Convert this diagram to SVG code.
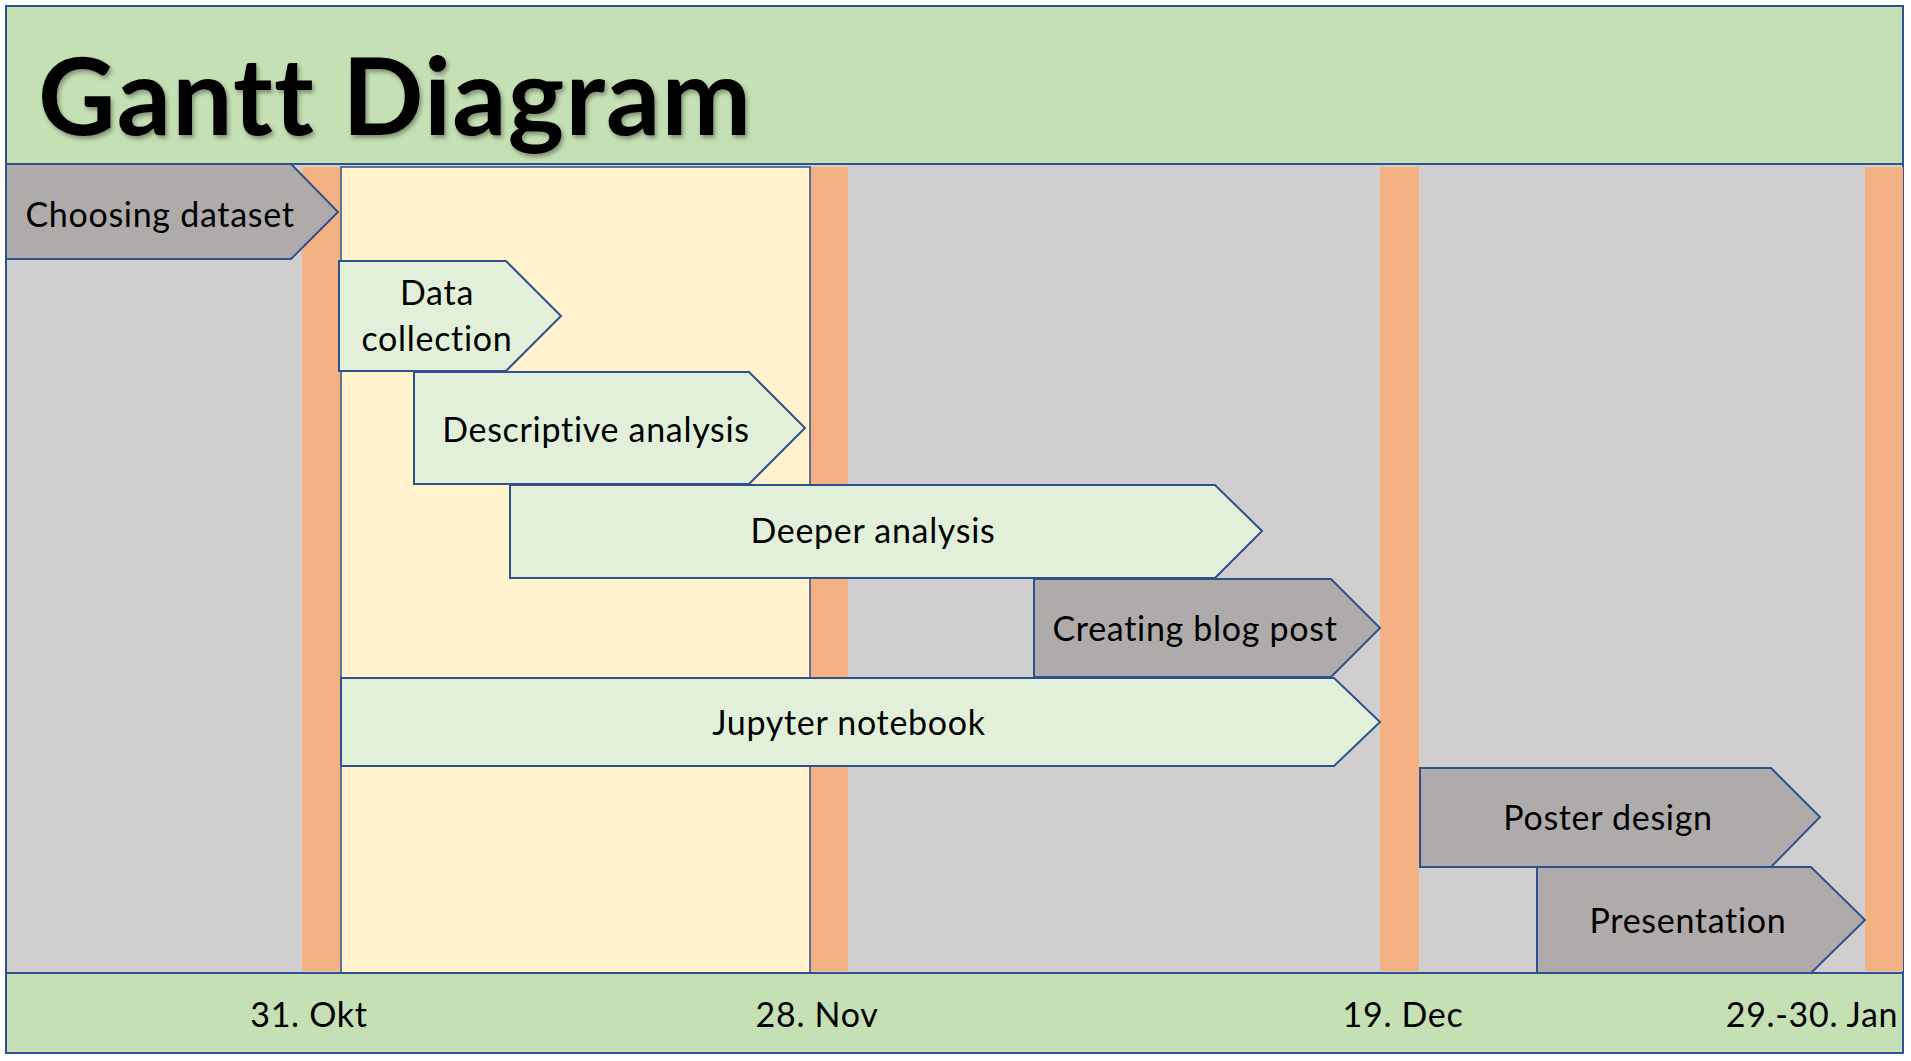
<svg xmlns="http://www.w3.org/2000/svg" width="1911" height="1061" viewBox="0 0 1911 1061">
<style>
.band{fill:#C5E0B4;stroke:#2F528F;stroke-width:2}
.area{fill:#D0CECE;stroke:#2F528F;stroke-width:2}
.bar{fill:#F4B183}
.yel{fill:#FFF2CC;stroke:#2F528F;stroke-width:1.5}
.lg{fill:#E2F0D9;stroke:#2F528F;stroke-width:2}
.dg{fill:#AFABAB;stroke:#2F528F;stroke-width:2}
.lbl{font-family:Lato,"Open Sans",sans-serif;font-size:34px;letter-spacing:0.7px;fill:#000;text-anchor:middle;font-variant-ligatures:none}
.title{font-family:Lato,"Open Sans",sans-serif;font-weight:bold;font-size:107px;letter-spacing:1.2px;fill:#000;font-variant-ligatures:none}
</style>
<defs>
<filter id="sh" x="-5%" y="-20%" width="110%" height="140%">
<feDropShadow dx="2" dy="3" stdDeviation="2" flood-color="#000" flood-opacity="0.35"/>
</filter>
</defs>
<rect width="1911" height="1061" fill="#FFFFFF"/>
<g id="header">
<rect class="band" x="6" y="6" width="1897" height="158"/>
<text class="title" x="38" y="135" filter="url(#sh)">Gantt Diagram</text>
</g>
<g id="timeline-area">
<rect class="area" x="6" y="164" width="1897" height="809"/>
<rect class="bar" x="302" y="167" width="38" height="804"/>
<rect class="bar" x="810" y="167" width="38" height="804"/>
<rect class="bar" x="1380" y="167" width="39" height="804"/>
<rect class="bar" x="1865" y="167" width="38" height="804"/>
<rect class="yel" x="341" y="167" width="469" height="806"/>
</g>
<g id="choosing-dataset">
<polygon class="dg" points="6,164 291,164 338,212 291,259 6,259"/>
<text class="lbl" x="160" y="227">Choosing dataset</text>
</g>
<g id="data-collection">
<polygon class="lg" points="339,261 506,261 561,316 506,371 339,371"/>
<text class="lbl" x="437" y="305">Data</text>
<text class="lbl" x="437" y="351">collection</text>
</g>
<g id="descriptive-analysis">
<polygon class="lg" points="414,372 749,372 805,428 749,484 414,484"/>
<text class="lbl" x="596" y="442">Descriptive analysis</text>
</g>
<g id="deeper-analysis">
<polygon class="lg" points="510,485 1215,485 1262,531 1215,578 510,578"/>
<text class="lbl" x="873" y="543">Deeper analysis</text>
</g>
<g id="creating-blog-post">
<polygon class="dg" points="1034,579 1331,579 1380,628 1331,677 1034,677"/>
<text class="lbl" x="1195" y="641">Creating blog post</text>
</g>
<g id="jupyter-notebook">
<polygon class="lg" points="341,678 1334,678 1380,722 1334,766 341,766"/>
<text class="lbl" x="849" y="735">Jupyter notebook</text>
</g>
<g id="poster-design">
<polygon class="dg" points="1420,768 1771,768 1820,817 1771,867 1420,867"/>
<text class="lbl" x="1608" y="830">Poster design</text>
</g>
<g id="presentation">
<polygon class="dg" points="1537,867 1811,867 1865,920 1811,973 1537,973"/>
<text class="lbl" x="1688" y="933">Presentation</text>
</g>
<g id="date-axis">
<rect class="band" x="6" y="973" width="1897" height="80"/>
<text class="lbl" x="309" y="1027">31. Okt</text>
<text class="lbl" x="817" y="1027">28. Nov</text>
<text class="lbl" x="1403" y="1027">19. Dec</text>
<text class="lbl" x="1812" y="1027">29.-30. Jan</text>
</g>
</svg>
